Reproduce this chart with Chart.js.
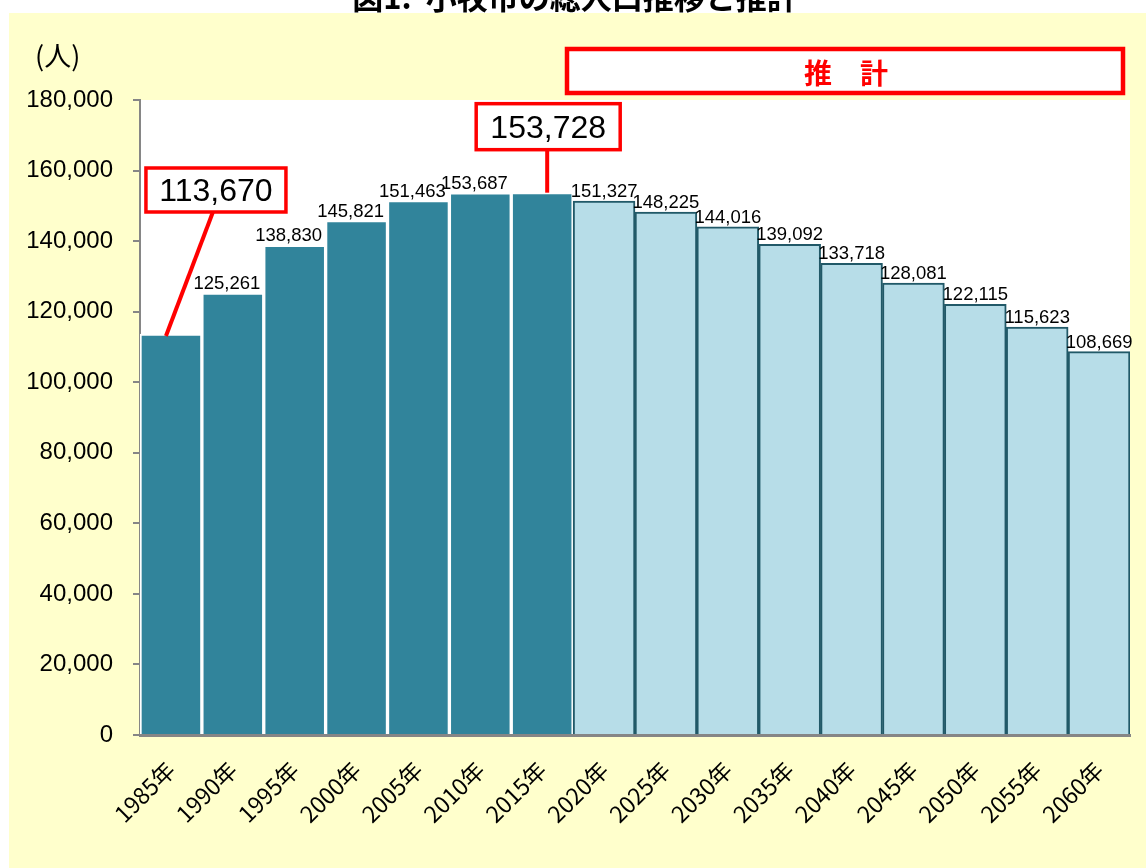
<!DOCTYPE html>
<html lang="ja">
<head>
    <meta charset="UTF-8">
    <title>小牧市の総人口推移と推計</title>
    <script src="https://cdn.jsdelivr.net/npm/chart.js"></script>
    <style>
        body {
            margin: 0;
            background: #ffffff;
        }
        canvas {
            display: block;
        }
    </style>
</head>
<body>
    <canvas id="popChart" width="1146" height="868"></canvas>

    <script>
        // データ
        const years = ['1985年', '1990年', '1995年', '2000年', '2005年', '2010年', '2015年', '2020年',
                       '2025年', '2030年', '2035年', '2040年', '2045年', '2050年', '2055年', '2060年'];
        const population = [113670, 125261, 138830, 145821, 151463, 153687, 153728, 151327,
                            148225, 144016, 139092, 133718, 128081, 122115, 115623, 108669];
        const lastActualIndex = 6; // 2015年まで実績、以降は推計
        const calloutIndexes = [0, 6]; // 枠付きで表示する値
        const yTicksMax = 180000;
        const yTicksStep = 20000;

        const jpFont = '"Noto Sans CJK JP", "Liberation Sans", sans-serif';
        const numFont = '"Liberation Sans", Arial, sans-serif';

        const fillColors = population.map((v, i) => i <= lastActualIndex ? '#31849B' : '#B7DDE8');
        const edgeColors = population.map((v, i) => i <= lastActualIndex ? '#ffffff' : '#215968');

        function fmt(n) {
            return n.toLocaleString('en-US');
        }

        // 背景・タイトル・注記を描くプラグイン
        const decorPlugin = {
            id: 'decor',
            beforeDraw(chart) {
                const ctx = chart.ctx;
                const area = chart.chartArea;
                ctx.save();
                ctx.fillStyle = '#ffffff';
                ctx.fillRect(0, 0, chart.width, chart.height);
                ctx.fillStyle = '#FFFFCC';
                ctx.fillRect(9, 13, chart.width - 9, chart.height - 13);
                ctx.fillStyle = '#ffffff';
                ctx.fillRect(area.left, area.top, area.right - area.left, area.bottom - area.top);

                // タイトル（上端で切れている）
                ctx.fillStyle = '#000000';
                ctx.font = 'bold 31px ' + jpFont;
                ctx.textAlign = 'center';
                ctx.textBaseline = 'alphabetic';
                ctx.fillText('図1.  小牧市の総人口推移と推計', 575, 9);

                // (人)
                ctx.font = '27px ' + jpFont;
                ctx.textAlign = 'left';
                ctx.textBaseline = 'middle';
                ctx.fillText('(人)', 35, 56);

                // 推計 ボックス
                ctx.fillStyle = '#ffffff';
                ctx.fillRect(565, 47, 560, 48);
                ctx.strokeStyle = '#FF0000';
                ctx.lineWidth = 4.5;
                ctx.strokeRect(567, 49, 556, 44);
                ctx.fillStyle = '#FF0000';
                ctx.font = 'bold 28px ' + jpFont;
                ctx.textAlign = 'center';
                ctx.fillText('推　計', 846, 73);
                ctx.restore();
            },
            afterDatasetsDraw(chart) {
                const ctx = chart.ctx;
                const meta = chart.getDatasetMeta(0);
                ctx.save();

                // 数値ラベル
                ctx.fillStyle = '#000000';
                ctx.font = '18.5px ' + numFont;
                ctx.textAlign = 'center';
                ctx.textBaseline = 'alphabetic';
                meta.data.forEach((bar, i) => {
                    if (calloutIndexes.includes(i)) return;
                    const shift = i <= lastActualIndex ? -6 : 0;
                    ctx.fillText(fmt(population[i]), bar.x + shift, bar.y - 4);
                });

                // 枠付きの値
                const boxes = [
                    { index: 0, dx: 45, w: 140, h: 44, gap: 122, lineX: -5, lineY: 2 },
                    { index: 6, dx: 6, w: 144, h: 46, gap: 43, lineX: 5, lineY: 0 }
                ];
                boxes.forEach(b => {
                    const bar = meta.data[b.index];
                    const cx = bar.x + b.dx;
                    const bottom = bar.y - b.gap;
                    const top = bottom - b.h;
                    ctx.strokeStyle = '#FF0000';
                    ctx.lineWidth = 4;
                    ctx.beginPath();
                    ctx.moveTo(cx - 3 + (b.index === 6 ? 2 : 0), bottom);
                    ctx.lineTo(bar.x + b.lineX, bar.y + b.lineY);
                    ctx.stroke();
                    ctx.fillStyle = '#ffffff';
                    ctx.fillRect(cx - b.w / 2, top, b.w, b.h);
                    ctx.lineWidth = 3.5;
                    ctx.strokeRect(cx - b.w / 2, top, b.w, b.h);
                    ctx.fillStyle = '#000000';
                    ctx.font = '32px ' + numFont;
                    ctx.textBaseline = 'middle';
                    ctx.fillText(fmt(population[b.index]), cx, top + b.h / 2 + 2);
                });
                ctx.restore();
            }
        };

        const ctx = document.getElementById('popChart').getContext('2d');
        const popChart = new Chart(ctx, {
            type: 'bar',
            data: {
                labels: years,
                datasets: [{
                    label: '総人口',
                    data: population,
                    backgroundColor: fillColors,
                    borderColor: edgeColors,
                    borderWidth: 2,
                    borderSkipped: 'bottom',
                    categoryPercentage: 1.0,
                    barPercentage: 1.0
                }]
            },
            options: {
                responsive: false,
                animation: false,
                layout: {
                    padding: { left: 0, right: 16, top: 100, bottom: 0 }
                },
                plugins: {
                    legend: { display: false },
                    tooltip: { enabled: false }
                },
                scales: {
                    x: {
                        grid: { display: false, drawTicks: false },
                        border: { color: '#868686', width: 3 },
                        ticks: {
                            color: '#000000',
                            font: { family: jpFont, size: 23 },
                            maxRotation: 45,
                            minRotation: 45,
                            padding: 21,
                            autoSkip: false
                        },
                        afterFit(scale) { scale.height = 133; }
                    },
                    y: {
                        min: 0,
                        max: yTicksMax,
                        grid: {
                            drawOnChartArea: false,
                            drawTicks: true,
                            tickLength: 7,
                            tickColor: '#868686',
                            lineWidth: 2
                        },
                        border: { color: '#868686', width: 2 },
                        ticks: {
                            stepSize: yTicksStep,
                            color: '#000000',
                            font: { family: numFont, size: 24 },
                            padding: 20,
                            callback: v => fmt(v)
                        },
                        afterFit(scale) { scale.width = 140; }
                    }
                }
            },
            plugins: [decorPlugin]
        });
    </script>
</body>
</html>
